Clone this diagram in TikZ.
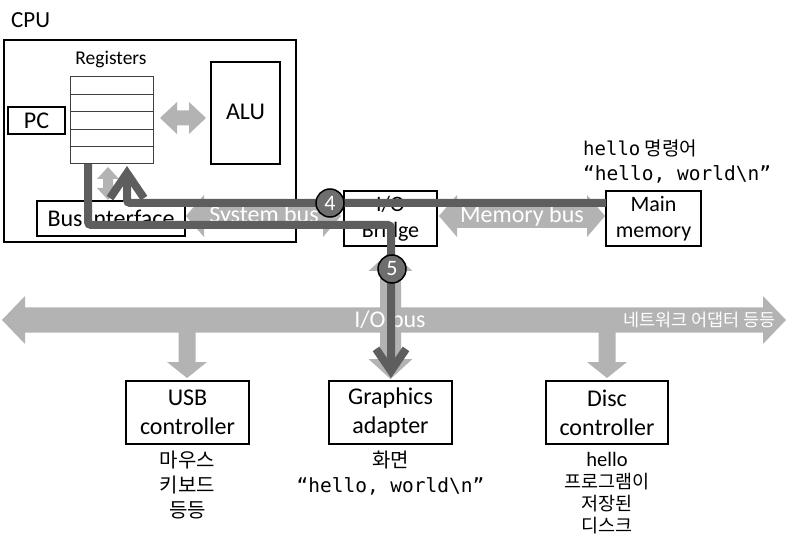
\documentclass[tikz,border=0pt]{standalone}
\usepackage{fontspec}
\setmainfont{Carlito}
\newfontfamily\kr{Noto Sans CJK KR}
\newfontfamily\mono{DejaVu Sans Mono}
\usetikzlibrary{arrows.meta}
\definecolor{lgray}{HTML}{B3B3B3}
\definecolor{dgray}{HTML}{5E5E5E}
\definecolor{cgray}{HTML}{6E6E6E}
% horizontal double arrow: x1 x2 y bodyhalf headhalf headlen
\newcommand{\hdarrow}[6]{%
 \fill[lgray] (#1,#3) -- (#1+#6,#3-#5) -- (#1+#6,#3-#4) -- (#2-#6,#3-#4) -- (#2-#6,#3-#5) -- (#2,#3) -- (#2-#6,#3+#5) -- (#2-#6,#3+#4) -- (#1+#6,#3+#4) -- (#1+#6,#3+#5) -- cycle;}
% vertical double arrow: x y1 y2 bodyhalf headhalf headlen
\newcommand{\vdarrow}[6]{%
 \fill[lgray] (#1,#2) -- (#1+#5,#2+#6) -- (#1+#4,#2+#6) -- (#1+#4,#3-#6) -- (#1+#5,#3-#6) -- (#1,#3) -- (#1-#5,#3-#6) -- (#1-#4,#3-#6) -- (#1-#4,#2+#6) -- (#1-#5,#2+#6) -- cycle;}
% vertical single down arrow
\newcommand{\vsarrow}[6]{%
 \fill[lgray] (#1-#4,#2) -- (#1+#4,#2) -- (#1+#4,#3-#6) -- (#1+#5,#3-#6) -- (#1,#3) -- (#1-#5,#3-#6) -- (#1-#4,#3-#6) -- cycle;}
\begin{document}
\begin{tikzpicture}[x=1pt,y=-1pt,
  box/.style={draw=black,line width=1.8pt,fill=white,inner sep=0pt,align=center},
  lbl/.style={inner sep=0pt,align=center},
  wlbl/.style={inner sep=0pt,text=white,font=\fontsize{24}{28}\selectfont},
  darkpath/.style={draw=dgray,line width=8pt,line join=miter,rounded corners=3pt},
  num/.style={circle,draw=black,line width=1.5pt,fill=cgray,text=white,minimum size=28pt,inner sep=0pt,font=\fontsize{22}{24}\selectfont}]
\useasboundingbox (0,0) rectangle (795,545);
% CPU
\node[lbl,anchor=west,font=\fontsize{23}{26}\selectfont] (cpulbl) at (11,20) {CPU};
\draw[line width=1.5pt] (4,40) rectangle (296,242);
\node[lbl,font=\fontsize{19.5}{22}\selectfont] (reglbl) at (111,59) {Registers};
\node[draw=black!75,line width=1pt,minimum width=83pt,minimum height=87pt,inner sep=0pt] (regs) at (111.5,120.5) {};
\foreach \yy in {94.4,111.8,129.2,146.6}{\draw[black!75,line width=1pt] (70,\yy) -- (153,\yy);}
\node[box,minimum width=57pt,minimum height=27pt,font=\fontsize{24}{26}\selectfont] (pc) at (36.5,120.5) {PC};
\node[box,minimum width=69pt,minimum height=102pt] (alu) at (245.5,113) {};
\node[lbl,font=\fontsize{24}{26}\selectfont] (alulbl) at (245.5,112) {ALU};
\node[box,minimum width=148pt,minimum height=35pt,font=\fontsize{24}{26}\selectfont] (busif) at (111,218.5) {Bus interface};
% gray arrows
\hdarrow{160}{206}{118}{7.5}{16}{17}
\vdarrow{108}{167}{200}{5}{11}{12}
\hdarrow{186}{341}{216}{12}{21}{18}
\hdarrow{439}{605}{216}{12}{21}{18}
\hdarrow{2}{786}{320}{12.5}{24}{23}
\vsarrow{187}{325}{378}{8.5}{20}{16}
\vsarrow{607}{325}{378}{8.5}{20}{16}
\vdarrow{390.5}{251}{379}{10.5}{22}{20}
% other boxes
\node[box,minimum width=93pt,minimum height=55pt,font=\fontsize{22}{26}\selectfont] (bridge) at (390.5,218.5) {I/O\\Bridge};
\node[box,minimum width=95pt,minimum height=55pt,font=\fontsize{22}{26}\selectfont] (mem) at (653.5,218.5) {Main\\memory};
\node[box,minimum width=123pt,minimum height=63pt,font=\fontsize{24}{29}\selectfont] (usb) at (187.5,412.5) {USB\\controller};
\node[box,minimum width=123pt,minimum height=63pt,font=\fontsize{24}{29}\selectfont] (gfx) at (390.5,412.5) {Graphics\\adapter};
\node[box,minimum width=122pt,minimum height=63pt,font=\fontsize{24}{29}\selectfont] (disc) at (607,412.5) {Disc\\controller};
% white labels
\node[wlbl] (sysbus) at (264,216) {System bus};
\node[wlbl] (membus) at (522,216) {Memory bus};
\node[wlbl] (iobus) at (390,320) {I/O bus};
\node[inner sep=0pt,text=white,anchor=east,font=\kr\fontsize{17.5}{20}\selectfont] (net) at (776,320) {네트워크 어댑터 등등};
% texts
\node[lbl,anchor=west,font=\fontsize{19}{26}\selectfont] (hcmd) at (583,148) {{\mono hello} {\kr 명령어}};
\node[lbl,anchor=west,font=\mono\fontsize{19.5}{26}\selectfont] (hstr) at (583,174) {“hello, world\textbackslash n”};
\node[lbl,anchor=north,font=\kr\fontsize{20}{25}\selectfont] (usbtxt) at (187.5,451) {마우스\\키보드\\등등};
\node[lbl,anchor=north,font=\kr\fontsize{20}{25}\selectfont] (gfxtxt) at (390.5,451) {화면\\{\mono\fontsize{19.5}{25}\selectfont “hello, world\textbackslash n”}};
\node[lbl,anchor=north,font=\fontsize{20.5}{22}\selectfont] (disctxt) at (607,452) {hello\\{\kr\fontsize{18.5}{22}\selectfont 프로그램이}\\{\kr\fontsize{18.5}{22}\selectfont 저장된}\\{\kr\fontsize{18.5}{22}\selectfont 디스크}};
% dark paths
\coordinate (a0) at (606,203);
\coordinate (a1) at (127,203);
\coordinate (a2) at (127,166);
\coordinate (b0) at (88,164);
\coordinate (b1) at (88,225);
\coordinate (b2) at (391,225);
\coordinate (b3) at (391,378);
\draw[darkpath,-{Straight Barb[length=25pt,width=34pt]}] (a0) -- (a1) -- (a2);
\draw[darkpath,-{Straight Barb[length=22pt,width=30pt]}] (b0) -- (b1) -- (b2) -- (b3);
\node[num] (n4) at (330,203) {4};
\node[num] (n5) at (392,269) {5};
\end{tikzpicture}
\end{document}
